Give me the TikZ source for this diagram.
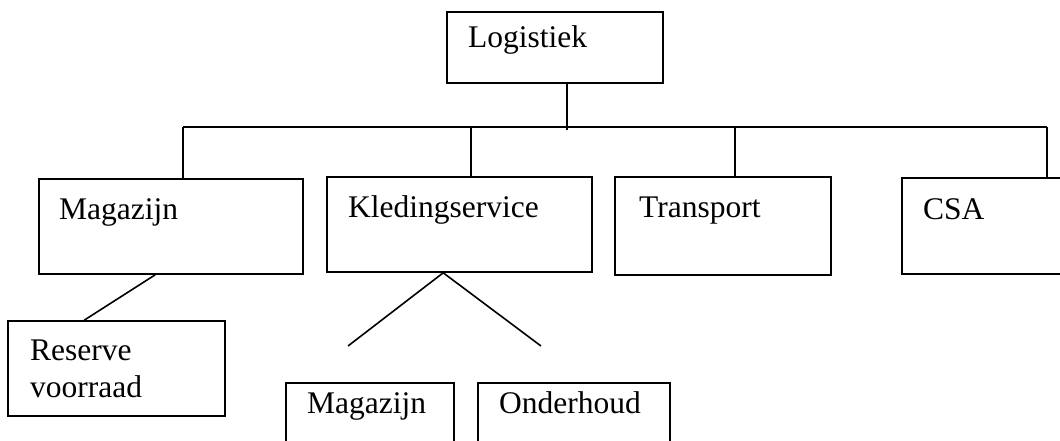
\documentclass[tikz,border=0pt]{standalone}
\usepackage{fontspec}
\setmainfont{Liberation Serif}
\begin{document}
\begin{tikzpicture}[x=1pt,y=-1pt,
  box/.style={draw=black, line width=1.6pt, inner sep=0pt, fill=none},
  lbl/.style={inner sep=0pt, anchor=base west, font=\fontsize{31.5}{36}\selectfont},
  conn/.style={draw=black, line width=1.6pt}]
\useasboundingbox (0,0) rectangle (1060,441);
\clip (0,0) rectangle (1060,441);
% boxes
\node[box, minimum width=216pt, minimum height=71pt] (log) at (555,47.5) {};
\node[box, minimum width=264pt, minimum height=95pt] (mag) at (171,226.5) {};
\node[box, minimum width=265pt, minimum height=95pt] (kled) at (459.5,224.5) {};
\node[box, minimum width=216pt, minimum height=98pt] (trans) at (723,226) {};
\node[box, minimum width=178pt, minimum height=96pt] (csa) at (991,226) {};
\node[box, minimum width=217pt, minimum height=95pt] (res) at (116.5,368.5) {};
\node[box, minimum width=168pt, minimum height=77pt] (mag2) at (370,421.5) {};
\node[box, minimum width=192pt, minimum height=77pt] (ond) at (574,421.5) {};
% labels
\node[lbl] (tlog) at (468,48) {Logistiek};
\node[lbl] (tmag) at (59,219) {Magazijn};
\node[lbl] (tkled) at (348,217) {Kledingservice};
\node[lbl] (ttrans) at (639,217.5) {Transport};
\node[lbl] (tcsa) at (923,219) {CSA};
\node[lbl] (tres1) at (30,360) {Reserve};
\node[lbl] (tres2) at (30,397) {voorraad};
\node[lbl] (tmag2) at (307,413) {Magazijn};
\node[lbl] (tond) at (499,413) {Onderhoud};
% connectors
\coordinate (top) at (567,130);
\coordinate (b1) at (183,127);
\coordinate (b2) at (471,127);
\coordinate (b3) at (735,127);
\coordinate (b4) at (1047,127);
\draw[conn] (top |- log.south) -- (top);
\draw[conn] (b1) -- (b4);
\draw[conn] (b1) -- (b1 |- mag.north);
\draw[conn] (b2) -- (b2 |- kled.north);
\draw[conn] (b3) -- (b3 |- trans.north);
\draw[conn] (b4) -- (b4 |- csa.north);
\draw[conn] ([xshift=117pt]mag.south west) -- ([xshift=77pt]res.north west);
\coordinate (vl) at (348,346);
\coordinate (vr) at (541,346);
\draw[conn] (vl) -- ([xshift=117pt]kled.south west) -- (vr);
\end{tikzpicture}
\end{document}
